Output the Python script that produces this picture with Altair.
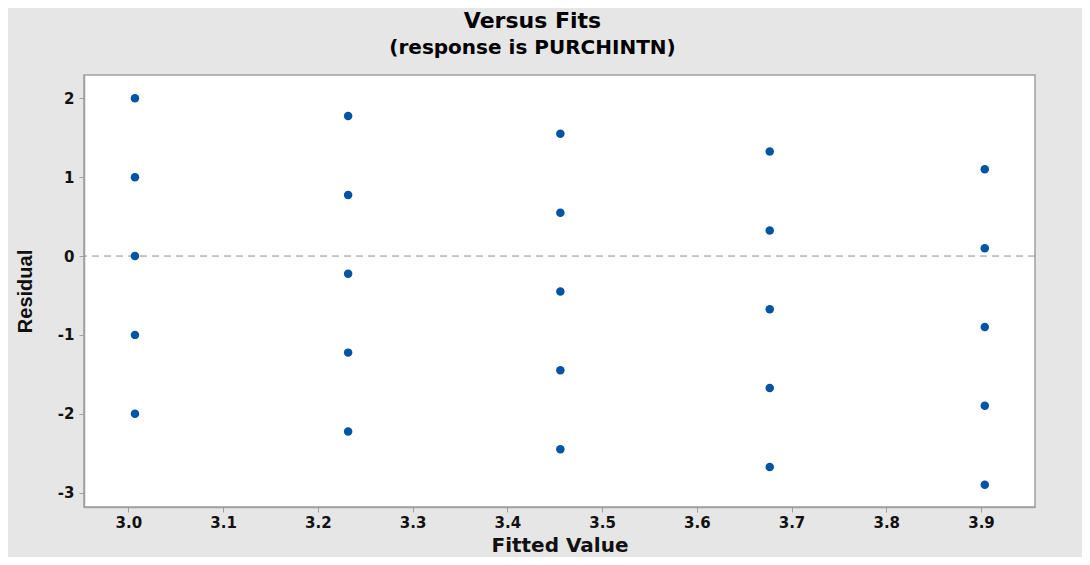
import altair as alt
import pandas as pd

# Fitted values (5 groups of 5 points) and residuals
fitted = [3.007, 3.007, 3.007, 3.007, 3.007,
          3.232, 3.232, 3.232, 3.232, 3.232,
          3.456, 3.456, 3.456, 3.456, 3.456,
          3.677, 3.677, 3.677, 3.677, 3.677,
          3.904, 3.904, 3.904, 3.904, 3.904]
residual = [2.0, 1.0, 0.0, -1.0, -2.0,
            1.775, 0.775, -0.225, -1.225, -2.225,
            1.55, 0.55, -0.45, -1.45, -2.45,
            1.325, 0.325, -0.675, -1.675, -2.675,
            1.1, 0.1, -0.9, -1.9, -2.9]
x_ticks = [3.0, 3.1, 3.2, 3.3, 3.4, 3.5, 3.6, 3.7, 3.8, 3.9]
y_ticks = [-3, -2, -1, 0, 1, 2]
ref_line = [0]

df = pd.DataFrame({"fit": fitted, "resid": residual})
ref = pd.DataFrame({"y": ref_line})

FONT = "DejaVu Sans"
X_DOMAIN = [2.9532, 3.957]
Y_DOMAIN = [-3.183, 2.296]

x_enc = alt.X(
    "fit:Q",
    title="Fitted Value",
    scale=alt.Scale(domain=X_DOMAIN, nice=False, zero=False),
    axis=alt.Axis(values=x_ticks, format=".1f", titlePadding=5, labelPadding=3,
                  titleFont=FONT, titleFontSize=20),
)
y_enc = alt.Y(
    "resid:Q",
    title="Residual",
    scale=alt.Scale(domain=Y_DOMAIN, nice=False, zero=False),
    axis=alt.Axis(values=y_ticks, labelExpr="datum.value + ''", titlePadding=22, labelPadding=5,
                  titleFont="Liberation Sans", titleFontSize=20),
)

rule = alt.Chart(ref).mark_rule(color="#8f8f8f", strokeDash=[7, 5], strokeWidth=1).encode(
    y=alt.Y("y:Q", scale=alt.Scale(domain=Y_DOMAIN, nice=False, zero=False))
)

points = alt.Chart(df).mark_point(filled=True, shape="circle", size=72, color="#0054a6", opacity=1).encode(
    x=x_enc, y=y_enc
)

chart = (
    alt.layer(rule, points)
    .properties(
        width=951,
        height=432,
        autosize=alt.AutoSizeParams(type="none"),
        padding={"left": 76, "top": 67, "right": 47, "bottom": 50},
        background="#e6e6e6",
        title=alt.TitleParams(
            text="Versus Fits",
            subtitle="(response is PURCHINTN)",
            font=FONT,
            fontSize=22,
            fontWeight="bold",
            color="#000000",
            subtitleFont=FONT,
            subtitleFontSize=20,
            subtitleFontWeight="bold",
            subtitleColor="#000000",
            subtitlePadding=5,
            anchor="middle",
            dx=-27,
            offset=16,
        ),
    )
    .configure_view(stroke="#a0a0a0", strokeWidth=1.5, fill="white")
    .configure_axis(
        grid=False,
        domainColor="#a0a0a0",
        domainWidth=1.5,
        tickColor="#a0a0a0",
        tickSize=5,
        labelFont=FONT,
        labelFontSize=15,
        labelFontWeight="bold",
        labelColor="#111111",
        titleFontWeight="bold",
        titleColor="#111111",
    )
)

chart.save("out.html", embed_options={"renderer": "svg", "actions": False})
